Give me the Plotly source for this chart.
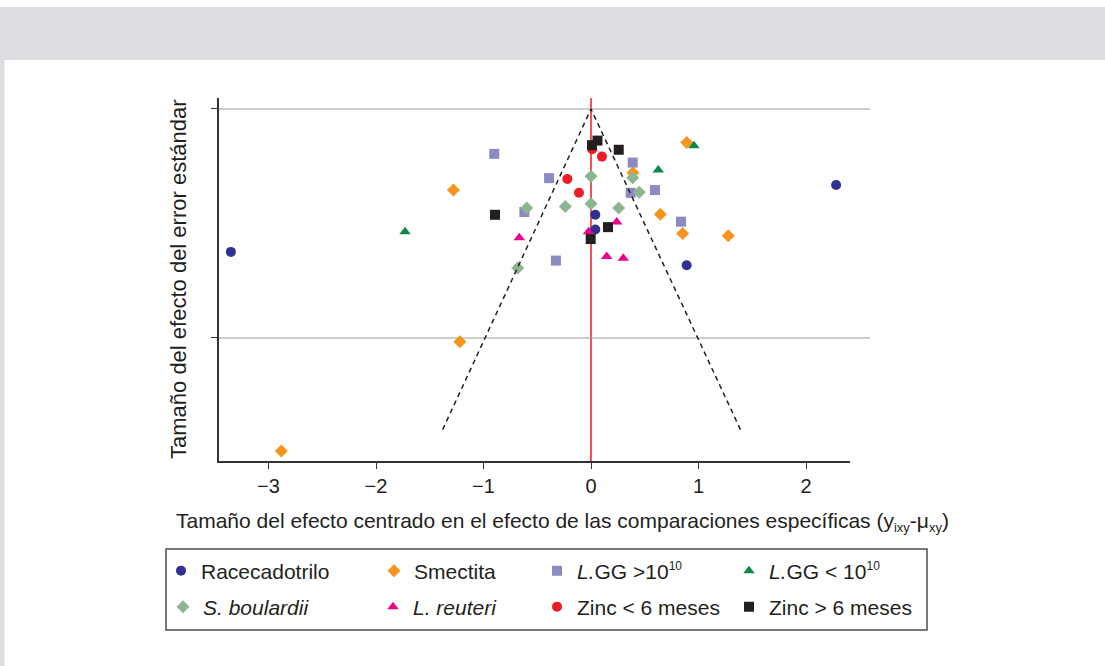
import plotly.graph_objects as go

# ---------------- data ----------------
race_x = [-3.35, 0.04, 0.04, 0.89, 2.28]
race_se = [0.312, 0.231, 0.263, 0.341, 0.166]

smec_x = [-1.28, -1.22, -2.88, 0.39, 0.89, 0.645, 0.853, 1.277]
smec_se = [0.177, 0.508, 0.747, 0.139, 0.073, 0.230, 0.272, 0.277]

lgg_hi_x = [-0.90, -0.39, -0.62, -0.326, 0.388, 0.369, 0.595, 0.837]
lgg_hi_se = [0.098, 0.151, 0.225, 0.331, 0.117, 0.183, 0.177, 0.246]

lgg_lo_x = [-1.73, 0.626, 0.958]
lgg_lo_se = [0.268, 0.133, 0.080]

sb_x = [0.0, 0.0, -0.239, -0.598, -0.682, 0.388, 0.449, 0.258]
sb_se = [0.147, 0.207, 0.213, 0.216, 0.347, 0.150, 0.182, 0.216]

reu_x = [-0.667, -0.023, 0.239, 0.146, 0.300]
reu_se = [0.281, 0.268, 0.247, 0.322, 0.326]

zinc_lo_x = [-0.220, -0.112, 0.011, 0.102]
zinc_lo_se = [0.153, 0.183, 0.088, 0.104]

zinc_hi_x = [-0.893, 0.009, 0.060, 0.258, 0.158, -0.003]
zinc_hi_se = [0.231, 0.079, 0.069, 0.089, 0.258, 0.284]

funnel_x = [-1.38, 0.0, 1.39]
funnel_se = [0.70, 0.0, 0.70]

x_ticks = [-3, -2, -1, 0, 1, 2]
y_ticks = [0, 0.5]

SUP = '<sup><span style="font-size:12px">10</span></sup>'
series = [
    ("Racecadotrilo", race_x, race_se, "circle", "#2e3192", 10),
    ("Smectita", smec_x, smec_se, "diamond", "#f7941d", 10),
    ("<i>L.</i>GG &gt;10" + SUP, lgg_hi_x, lgg_hi_se, "square", "#8b8ac3", 10),
    ("<i>L.</i>GG &lt; 10" + SUP, lgg_lo_x, lgg_lo_se, "triangle-up", "#0a8a44", 10),
    ("<i>S. boulardii</i>", sb_x, sb_se, "diamond", "#8db58f", 10),
    ("<i>L. reuteri</i>", reu_x, reu_se, "triangle-up", "#ec008c", 10),
    ("Zinc &lt; 6 meses", zinc_lo_x, zinc_lo_se, "circle", "#ed1c24", 10),
    ("Zinc &gt; 6 meses", zinc_hi_x, zinc_hi_se, "square", "#231f20", 10),
]

# ---------------- layout geometry (pixels) ----------------
W, H = 1105, 666
L, R, T, B = 219, 850, 98, 461
pw, ph = R - L, B - T


def px(xp):
    return (xp - L) / pw


def py(yp):
    return (B - yp) / ph


FONT = "Liberation Sans, Arial, Helvetica, sans-serif"
TXT = "#231f20"

fig = go.Figure()

# red vertical line at x = 0
fig.add_shape(type="line", xref="x", yref="paper", x0=0, x1=0, y0=0, y1=1,
              line=dict(color="#ed1c24", width=1.5), layer="below")

# horizontal reference lines at the y ticks
for yv in y_ticks:
    fig.add_shape(type="line", xref="paper", yref="y", x0=0, x1=px(870), y0=yv, y1=yv,
                  line=dict(color="#9a9a9a", width=1.2), layer="below")

# legend positions (marker centre pixels) per item
leg_pos = [(181, 571), (394, 571), (557, 571), (749, 571),
           (183, 607), (393, 607), (557, 607), (749, 607)]

for i, (name, xs, ys, sym, col, sz) in enumerate(series):
    lname = "legend" if i == 0 else f"legend{i + 1}"
    fig.add_trace(go.Scatter(
        x=xs, y=ys, mode="markers", name=name, legend=lname,
        marker=dict(symbol=sym, color=col, size=sz, line=dict(width=0)),
        hoverinfo="skip",
    ))

# funnel lines
fig.add_trace(go.Scatter(x=funnel_x, y=funnel_se, mode="lines", showlegend=False,
                         line=dict(color="#231f20", width=1.5, dash="5px,4px"),
                         hoverinfo="skip"))

legends = {}
for i, (mx, my) in enumerate(leg_pos):
    lname = "legend" if i == 0 else f"legend{i + 1}"
    legends[lname] = dict(
        x=px(mx - 20), y=py(my), xanchor="left", yanchor="middle",
        bgcolor="rgba(0,0,0,0)", borderwidth=0,
        font=dict(family=FONT, size=21, color=TXT),
    )

# grey header band and left strip
band = "#dcdde0"
fig.add_shape(type="rect", xref="paper", yref="paper", x0=px(0), x1=px(W), y0=py(60), y1=py(7),
              fillcolor=band, line=dict(width=0), layer="below")
fig.add_shape(type="rect", xref="paper", yref="paper", x0=px(0), x1=px(4.5), y0=py(H), y1=py(60),
              fillcolor=band, line=dict(width=0), layer="below")

# legend box
fig.add_shape(type="rect", xref="paper", yref="paper", x0=px(166), x1=px(927), y0=py(630), y1=py(549),
              line=dict(color="#4d4d4d", width=1.5), fillcolor="rgba(0,0,0,0)")

# axis titles
fig.add_annotation(xref="paper", yref="paper", x=px(562), y=py(522), xanchor="center", yanchor="middle",
                   showarrow=False,
                   text=('Tamaño del efecto centrado en el efecto de las comparaciones específicas '
                         '(y<sub><span style="font-size:13px">ixy</span></sub>-μ'
                         '<sub><span style="font-size:13px">xy</span></sub>)'),
                   font=dict(family=FONT, size=21, color=TXT))
fig.add_annotation(xref="paper", yref="paper", x=px(178), y=py(279), xanchor="center", yanchor="middle",
                   showarrow=False, textangle=-90,
                   text="Tamaño del efecto del error estándar",
                   font=dict(family=FONT, size=22, color=TXT))

fig.update_layout(
    width=W, height=H,
    margin=dict(l=L, r=W - R, t=T, b=H - B, pad=0),
    paper_bgcolor="white", plot_bgcolor="white",
    font=dict(family=FONT, size=20, color=TXT),
    xaxis=dict(range=[-3.4605, 2.4093], tickvals=x_ticks, ticks="outside", ticklen=6,
               tickwidth=1.3, tickcolor="#333333",
               showline=True, linecolor="#333333", linewidth=1.5, showgrid=False, zeroline=False,
               tickfont=dict(family=FONT, size=20, color=TXT), fixedrange=True),
    yaxis=dict(range=[0.7686, -0.024], tickvals=y_ticks, ticks="outside", ticklen=6,
               tickwidth=1.3, tickcolor="#333333", showticklabels=False,
               showline=True, linecolor="#333333", linewidth=1.5, showgrid=False, zeroline=False,
               fixedrange=True),
    **legends,
)

fig.write_html("out.html", config={"displayModeBar": False},
               post_script="document.body.style.margin='0';")
